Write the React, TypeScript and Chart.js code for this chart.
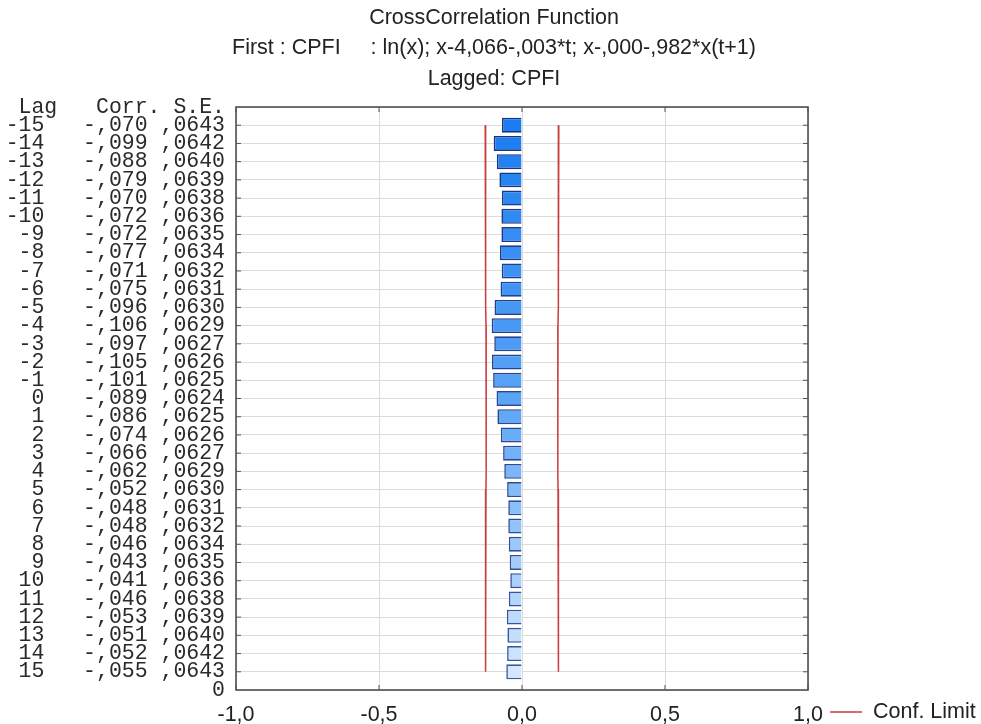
import React, { useEffect, useRef } from "react";
import { Chart, registerables } from "chart.js";

Chart.register(...registerables);

const titleLines = [
  "CrossCorrelation Function",
  "First : CPFI     : ln(x); x-4,066-,003*t; x-,000-,982*x(t+1)",
  "Lagged: CPFI",
];

const lags = [-15, -14, -13, -12, -11, -10, -9, -8, -7, -6, -5, -4, -3, -2, -1, 0, 1, 2, 3, 4, 5, 6, 7, 8, 9, 10, 11, 12, 13, 14, 15];
const corr = [-0.070, -0.099, -0.088, -0.079, -0.070, -0.072, -0.072, -0.077, -0.071, -0.075, -0.096, -0.106, -0.097, -0.105, -0.101, -0.089, -0.086, -0.074, -0.066, -0.062, -0.052, -0.048, -0.048, -0.046, -0.043, -0.041, -0.046, -0.053, -0.051, -0.052, -0.055];
const stdErr = [0.0643, 0.0642, 0.0640, 0.0639, 0.0638, 0.0636, 0.0635, 0.0634, 0.0632, 0.0631, 0.0630, 0.0629, 0.0627, 0.0626, 0.0625, 0.0624, 0.0625, 0.0626, 0.0627, 0.0629, 0.0630, 0.0631, 0.0632, 0.0634, 0.0635, 0.0636, 0.0638, 0.0639, 0.0640, 0.0642, 0.0643];
const xTicks = [-1, -0.5, 0, 0.5, 1];
const headerLabel = " Lag   Corr. S.E.";
const bottomLabel = "0";
const legendLabel = "Conf. Limit";

const fmtCorr = (v: number) => (v < 0 ? "-" : " ") + Math.abs(v).toFixed(3).replace("0.", ",");
const fmtSE = (v: number) => v.toFixed(4).replace("0.", ",");
const fmtX = (v: number) => v.toFixed(1).replace(".", ",");

function lerp(a: number[], b: number[], t: number) {
  return a.map((v, i) => Math.round(v + (b[i] - v) * t));
}

export default function App() {
  const ref = useRef<HTMLCanvasElement | null>(null);

  useEffect(() => {
    if (!ref.current) return;
    const n = lags.length;
    const fills = lags.map((_, i) => {
      const t = i / (n - 1);
      const c = t < 0.5 ? lerp([28, 124, 240], [90, 164, 246], t / 0.5) : lerp([90, 164, 246], [212, 231, 252], (t - 0.5) / 0.5);
      return `rgb(${c[0]},${c[1]},${c[2]})`;
    });
    const borders = lags.map((_, i) => {
      const c = lerp([22, 52, 135], [55, 88, 165], i / (n - 1));
      return `rgb(${c[0]},${c[1]},${c[2]})`;
    });

    const framePlugin = {
      id: "frame",
      afterDraw(chart: any) {
        const { ctx, chartArea: a, scales } = chart;
        ctx.save();
        ctx.strokeStyle = "#444";
        ctx.lineWidth = 1.5;
        ctx.strokeRect(a.left, a.top, a.right - a.left, a.bottom - a.top);
        ctx.lineWidth = 1;
        ctx.strokeStyle = "#555";
        for (const lag of lags) {
          const y = scales.y.getPixelForValue(lag);
          ctx.beginPath();
          ctx.moveTo(a.left, y);
          ctx.lineTo(a.left + 5, y);
          ctx.moveTo(a.right - 5, y);
          ctx.lineTo(a.right, y);
          ctx.stroke();
        }
        for (const v of xTicks) {
          const x = scales.x.getPixelForValue(v);
          ctx.beginPath();
          ctx.moveTo(x, a.bottom);
          ctx.lineTo(x, a.bottom - 5);
          ctx.moveTo(x, a.top);
          ctx.lineTo(x, a.top + 5);
          ctx.stroke();
        }
        ctx.fillStyle = "#222";
        ctx.font = '21.5px "Liberation Sans", Arial, sans-serif';
        ctx.textAlign = "center";
        ctx.textBaseline = "middle";
        const ys = [18, 48, 79];
        titleLines.forEach((t, i) => ctx.fillText(t, 494, ys[i]));
        const ly = 712;
        ctx.strokeStyle = "#c83c3c";
        ctx.lineWidth = 1.5;
        ctx.beginPath();
        ctx.moveTo(830, ly);
        ctx.lineTo(862, ly);
        ctx.stroke();
        ctx.textAlign = "left";
        ctx.fillText(legendLabel, 873, ly);
        ctx.restore();
      },
    };

    const chart = new Chart(ref.current, {
      type: "bar",
      data: {
        datasets: [
          {
            type: "bar",
            label: "Corr",
            data: lags.map((l, i) => ({ x: corr[i], y: l })),
            backgroundColor: fills,
            borderColor: borders,
            borderWidth: 1.6,
            barPercentage: 1,
            categoryPercentage: 0.82,
            order: 2,
          } as any,
          {
            type: "line",
            label: "Conf. Limit -",
            data: lags.map((l, i) => ({ x: -2 * stdErr[i], y: l })),
            borderColor: "#c83c3c",
            borderWidth: 1.5,
            pointRadius: 0,
            fill: false,
            order: 1,
          } as any,
          {
            type: "line",
            label: "Conf. Limit +",
            data: lags.map((l, i) => ({ x: 2 * stdErr[i], y: l })),
            borderColor: "#c83c3c",
            borderWidth: 1.5,
            pointRadius: 0,
            fill: false,
            order: 1,
          } as any,
        ],
      },
      options: {
        indexAxis: "y",
        responsive: false,
        animation: false,
        layout: { padding: { top: 107, right: 173, left: 0, bottom: 0 } },
        plugins: {
          legend: { display: false },
          title: { display: false },
          tooltip: { enabled: false },
        },
        scales: {
          x: {
            type: "linear",
            min: -1,
            max: 1,
            offset: false,
            afterBuildTicks(scale: any) {
              scale.ticks = xTicks.map((v) => ({ value: v }));
            },
            afterFit(scale: any) {
              scale.height = 34;
            },
            grid: { color: "#dcdcdc", drawTicks: false, offset: false },
            border: { display: false },
            ticks: {
              padding: 12,
              color: "#222",
              font: { family: '"Liberation Sans", Arial, sans-serif', size: 21.5 },
              callback: (v: any) => fmtX(Number(v)),
            },
          },
          y: {
            type: "linear",
            min: -16,
            max: 16,
            reverse: true,
            offset: false,
            afterBuildTicks(scale: any) {
              scale.ticks = [-16, ...lags, 16].map((v) => ({ value: v }));
            },
            afterFit(scale: any) {
              scale.width = 236;
            },
            grid: { color: "#dcdcdc", drawTicks: false, offset: false },
            border: { display: false },
            ticks: {
              autoSkip: false,
              padding: 11,
              color: "#2a2a2a",
              font: { family: '"Liberation Mono", "DejaVu Sans Mono", monospace', size: 21.5, lineHeight: 1 },
              callback: (v: any) => {
                const val = Number(v);
                if (val === -16) return headerLabel;
                if (val === 16) return bottomLabel;
                const i = lags.indexOf(val);
                if (i < 0) return "";
                return String(lags[i]).padStart(3, " ") + "   " + fmtCorr(corr[i]) + " " + fmtSE(stdErr[i]);
              },
            },
          },
        },
      },
      plugins: [framePlugin],
    } as any);

    return () => chart.destroy();
  }, []);

  return (
    <div style={{ position: "absolute", left: 0, top: 0, width: 981, height: 724, background: "#fff" }}>
      <canvas ref={ref} width={981} height={724} style={{ display: "block" }} />
    </div>
  );
}
